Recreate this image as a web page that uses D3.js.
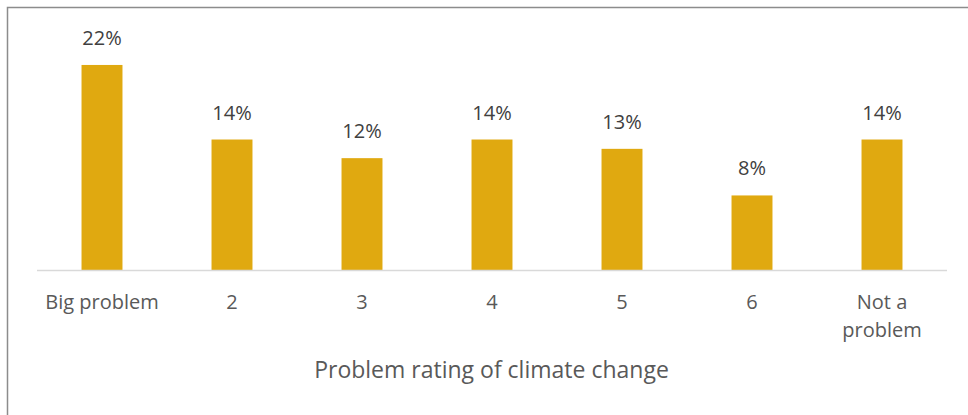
<!DOCTYPE html>
<html>
<head>
<meta charset="utf-8">
<script src="https://cdn.jsdelivr.net/npm/d3@7"></script>
<style>
  body { margin: 0; background: #fff; }
  text { font-family: "Open Sans", "Noto Sans", sans-serif; }
</style>
</head>
<body>
<div id="chart"></div>
<script>
const categories = ['Big problem', '2', '3', '4', '5', '6', 'Not a problem']
const values = [0.22, 0.14, 0.12, 0.14, 0.13, 0.08, 0.14]
const valueLabels = ['22%', '14%', '12%', '14%', '13%', '8%', '14%']
const axisTitle = 'Problem rating of climate change'

const width = 968
const height = 415
const baseY = 270
const left = 37
const right = 947

const svg = d3.select('#chart')
  .append('svg')
  .attr('width', width)
  .attr('height', height)

// outer frame, cut off at right and bottom like the source
svg.append('rect')
  .attr('x', 7.5)
  .attr('y', 7.5)
  .attr('width', width + 20)
  .attr('height', height + 20)
  .attr('fill', 'none')
  .attr('stroke', '#8c8c8c')
  .attr('stroke-width', 1.5)

const x = d3.scaleBand()
  .domain(categories)
  .range([left, right])
  .paddingInner(0.685)
  .paddingOuter(0.3425)

const y = d3.scaleLinear()
  .domain([0, 0.25])
  .range([baseY, baseY - 233])

svg.selectAll('rect.bar')
  .data(values)
  .enter().append('rect')
  .attr('class', 'bar')
  .attr('x', (d, i) => x(categories[i]))
  .attr('y', d => y(d))
  .attr('width', x.bandwidth())
  .attr('height', d => baseY - y(d))
  .attr('fill', '#e0a910')

svg.selectAll('text.val')
  .data(values)
  .enter().append('text')
  .attr('class', 'val')
  .attr('x', (d, i) => x(categories[i]) + x.bandwidth() / 2)
  .attr('y', d => y(d) - 20)
  .attr('text-anchor', 'middle')
  .attr('font-size', 20)
  .attr('fill', '#404040')
  .text((d, i) => valueLabels[i])

// baseline
svg.append('line')
  .attr('x1', left)
  .attr('x2', right)
  .attr('y1', baseY + 0.5)
  .attr('y2', baseY + 0.5)
  .attr('stroke', '#d9d9d9')
  .attr('stroke-width', 1.5)

// category labels, wrapping "Not a problem"
const catLabel = svg.selectAll('text.cat')
  .data(categories)
  .enter().append('text')
  .attr('class', 'cat')
  .attr('text-anchor', 'middle')
  .attr('font-size', 20)
  .attr('fill', '#595959')

catLabel.each(function(d) {
  const cx = x(d) + x.bandwidth() / 2
  const lines = d === 'Not a problem' ? ['Not a', 'problem'] : [d]
  lines.forEach((t, j) => {
    d3.select(this).append('tspan')
      .attr('x', cx)
      .attr('y', 309 + j * 28)
      .text(t)
  })
})

svg.append('text')
  .attr('x', (left + right) / 2 - 0.5)
  .attr('y', 378)
  .attr('text-anchor', 'middle')
  .attr('font-size', 23)
  .attr('fill', '#595959')
  .text(axisTitle)
</script>
</body>
</html>
